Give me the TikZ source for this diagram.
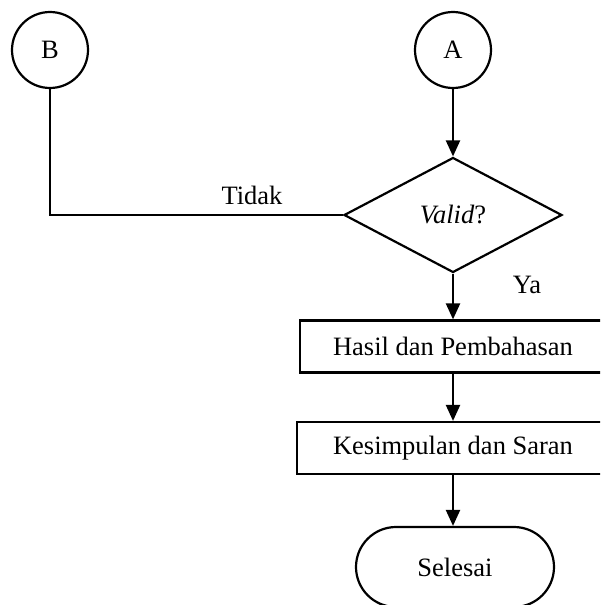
\documentclass[tikz,border=0pt]{standalone}
\usepackage{fontspec}
\setmainfont{Liberation Serif}
\usepackage{tikz}
\usetikzlibrary{positioning,arrows.meta,shapes.geometric}

\begin{document}
\begin{tikzpicture}[x=0.5pt, y=-0.5pt, line width=1.1pt,
  font=\fontsize{13.25}{15}\selectfont,
  flow/.style={-{Triangle[length=8pt,width=7pt]}},
  connector/.style={draw, circle, minimum size=38pt, inner sep=0pt},
  decision/.style={draw, diamond, minimum width=109pt, minimum height=57.5pt, inner sep=0pt},
  process/.style={draw, rectangle, minimum height=26pt, inner sep=0pt},
  terminal/.style={draw, rectangle, rounded corners=20pt, minimum width=99pt, minimum height=40pt}]
  \useasboundingbox (0,0) rectangle (600,605);
  \clip (0,0) rectangle (600,605);

  % connectors
  \node[connector] (B) at (50,50) {B};
  \node[connector] (A) at (453,50) {A};

  % decision
  \node[decision] (valid) at (453,215) {\textit{Valid}?};
  \coordinate (corner) at (B |- valid);
  \draw (B) -- (corner) -- (valid.west);
  \node (tidak) at (252,195) {Tidak};
  \node (ya) at (527,285) {Ya};

  % process
  \node[process, minimum width=153pt] (hasil) at (453,346.5) {Hasil dan Pembahasan};
  \node[process, minimum width=156pt] (kesimpulan) at (453,448) {Kesimpulan dan Saran};
  \node[terminal] (selesai) at (455,567) {Selesai};

  \draw[flow] (A) -- (valid);
  \draw[flow] (valid) -- (hasil);
  \draw[flow] (hasil) -- (kesimpulan);
  \draw[flow] (kesimpulan) -- (kesimpulan |- selesai.north);
\end{tikzpicture}
\end{document}
